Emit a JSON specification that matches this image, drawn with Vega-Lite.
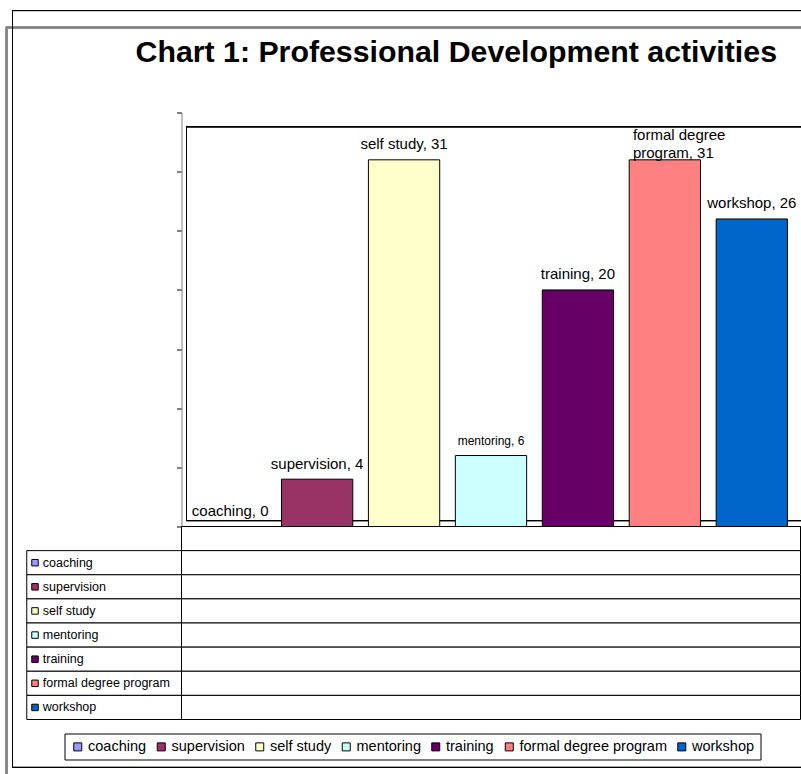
{
  "$schema": "https://vega.github.io/schema/vega-lite/v6.json",
  "background": "white",
  "padding": {"left": 5.5, "top": 9.5, "right": 0, "bottom": 0},
  "bounds": "flush",
  "title": {
    "text": "Chart 1: Professional Development activities",
    "font": "Liberation Sans",
    "fontSize": 30.3,
    "fontWeight": "bold",
    "color": "#000",
    "anchor": "start",
    "frame": "group",
    "dx": -46,
    "offset": -58.3
  },
  "config": {
    "view": {"stroke": null},
    "font": "Liberation Sans",
    "axisY": {
      "labels": false,
      "tickSize": 5,
      "tickColor": "#000",
      "domainColor": "#808080",
      "grid": false,
      "title": null
    },
    "legend": {
      "orient": "none",
      "legendX": -117,
      "legendY": 621,
      "direction": "horizontal",
      "title": null,
      "symbolType": "square",
      "symbolSize": 64,
      "symbolStrokeColor": "#000",
      "symbolStrokeWidth": 1,
      "labelFont": "Liberation Sans",
      "labelFontSize": 14.5,
      "labelColor": "#000",
      "labelOffset": 3,
      "labelLimit": 500,
      "columnPadding": 7.5,
      "padding": 6,
      "strokeColor": "#000",
      "fillColor": "#fff"
    }
  },
  "datasets": {
    "activities": [
      {"activity": "coaching", "value": 0, "label": "coaching, 0"},
      {"activity": "supervision", "value": 4, "label": "supervision, 4"},
      {"activity": "self study", "value": 31, "label": "self study, 31"},
      {"activity": "mentoring", "value": 6, "label": "mentoring, 6"},
      {"activity": "training", "value": 20, "label": "training, 20"},
      {"activity": "formal degree program", "value": 31, "label": "formal degree\nprogram, 31"},
      {"activity": "workshop", "value": 26, "label": "workshop, 26"}
    ]
  },
  "spacing": 0,
  "vconcat": [
    {
      "width": 619,
      "height": 414,
      "data": {"name": "activities"},
      "resolve": {"scale": {"x": "independent"}},
      "layer": [
        {
          "layer": [
            {
              "mark": {"type": "rect", "fill": null, "stroke": "#808080", "strokeWidth": 1.5},
              "encoding": {
                "x": {"datum": -0.2827, "type": "quantitative", "scale": {"domain": [0, 1]}, "axis": null},
                "x2": {"datum": 1.03},
                "y": {"datum": 42.18, "type": "quantitative", "scale": {"domain": [0, 35], "nice": false}, "axis": {"values": [0, 5, 10, 15, 20, 25, 30, 35], "title": null}},
                "y2": {"datum": -23}
              }
            },
            {
              "mark": {"type": "rect", "fill": null, "stroke": "#000", "strokeWidth": 1},
              "encoding": {
                "x": {"datum": -0.273, "type": "quantitative", "axis": null},
                "x2": {"datum": 1.02},
                "y": {"datum": 43.62, "type": "quantitative", "axis": {"values": [0, 5, 10, 15, 20, 25, 30, 35], "title": null}},
                "y2": {"datum": -20.37}
              }
            },
            {
              "mark": {"type": "rect", "fill": null, "stroke": "#000", "strokeWidth": 1},
              "encoding": {
                "x": {"datum": 0.0081, "type": "quantitative", "axis": null},
                "x2": {"datum": 1.02},
                "y": {"datum": 33.8, "type": "quantitative", "axis": {"values": [0, 5, 10, 15, 20, 25, 30, 35], "title": null}},
                "y2": {"datum": 0.5}
              }
            }
          ]
        },
        {
          "layer": [
            {
              "mark": {"type": "bar", "stroke": "#000", "strokeWidth": 1},
              "encoding": {
                "x": {
                  "field": "activity",
                  "type": "nominal",
                  "sort": null,
                  "scale": {
                    "domain": ["coaching", "supervision", "self study", "mentoring", "training", "formal degree program", "workshop"],
                    "paddingInner": 0.18,
                    "paddingOuter": 0.15
                  },
                  "axis": null
                },
                "y": {
                  "field": "value",
                  "type": "quantitative",
                  "scale": {"domain": [0, 35], "nice": false},
                  "axis": {"values": [0, 5, 10, 15, 20, 25, 30, 35], "title": null}
                },
                "color": {
                  "field": "activity",
                  "type": "nominal",
                  "scale": {
                    "domain": ["coaching", "supervision", "self study", "mentoring", "training", "formal degree program", "workshop"],
                    "range": ["#9999FF", "#993366", "#FFFFCC", "#CCFFFF", "#660066", "#FF8080", "#0066CC"]
                  }
                }
              }
            },
            {
              "transform": [{"filter": "datum.activity !== 'formal degree program'"}],
              "mark": {"type": "text", "baseline": "alphabetic", "dy": -10.5, "color": "#000", "font": "Liberation Sans"},
              "encoding": {
                "x": {"field": "activity", "type": "nominal"},
                "y": {"field": "value", "type": "quantitative", "axis": {"values": [0, 5, 10, 15, 20, 25, 30, 35], "title": null}},
                "text": {"field": "label"},
                "size": {"condition": {"test": "datum.activity === 'mentoring'", "value": 12}, "value": 15}
              }
            },
            {
              "transform": [{"filter": "datum.activity === 'formal degree program'"}],
              "mark": {"type": "text", "align": "left", "baseline": "alphabetic", "dx": -32, "dy": -19.5, "lineBreak": "\n", "lineHeight": 18, "fontSize": 15, "color": "#000", "font": "Liberation Sans"},
              "encoding": {
                "x": {"field": "activity", "type": "nominal"},
                "y": {"field": "value", "type": "quantitative", "axis": {"values": [0, 5, 10, 15, 20, 25, 30, 35], "title": null}},
                "text": {"field": "label"}
              }
            }
          ]
        }
      ]
    },
    {
      "width": 619,
      "height": 193,
      "data": {"name": "activities"},
      "layer": [
        {
          "mark": {"type": "rect", "fill": "#fff", "stroke": "#000", "strokeWidth": 1},
          "encoding": {
            "x": {"datum": 0, "type": "quantitative", "scale": {"domain": [0, 4]}, "axis": null},
            "x2": {"datum": 4},
            "y": {
              "datum": "header",
              "type": "nominal",
              "scale": {
                "domain": ["header", "coaching", "supervision", "self study", "mentoring", "training", "formal degree program", "workshop"],
                "paddingInner": 0,
                "paddingOuter": 0
              },
              "axis": null
            }
          }
        },
        {
          "mark": {"type": "rect", "fill": "#fff", "stroke": "#000", "strokeWidth": 1},
          "encoding": {
            "x": {"datum": -1, "type": "quantitative"},
            "x2": {"datum": 0},
            "y": {"field": "activity", "type": "nominal"}
          }
        },
        {
          "mark": {"type": "rect", "fill": "#fff", "stroke": "#000", "strokeWidth": 1},
          "encoding": {
            "x": {"datum": 0, "type": "quantitative"},
            "x2": {"datum": 4},
            "y": {"field": "activity", "type": "nominal"}
          }
        },
        {
          "mark": {"type": "point", "shape": "square", "filled": true, "size": 42, "stroke": "#000", "strokeWidth": 1, "opacity": 1},
          "encoding": {
            "x": {"datum": -0.9467, "type": "quantitative"},
            "y": {"field": "activity", "type": "nominal"},
            "color": {"field": "activity", "type": "nominal"}
          }
        },
        {
          "mark": {"type": "text", "align": "left", "baseline": "middle", "dx": 16, "fontSize": 12.5, "color": "#000", "font": "Liberation Sans"},
          "encoding": {
            "x": {"datum": -1, "type": "quantitative"},
            "y": {"field": "activity", "type": "nominal"},
            "text": {"field": "activity"}
          }
        }
      ]
    }
  ]
}
